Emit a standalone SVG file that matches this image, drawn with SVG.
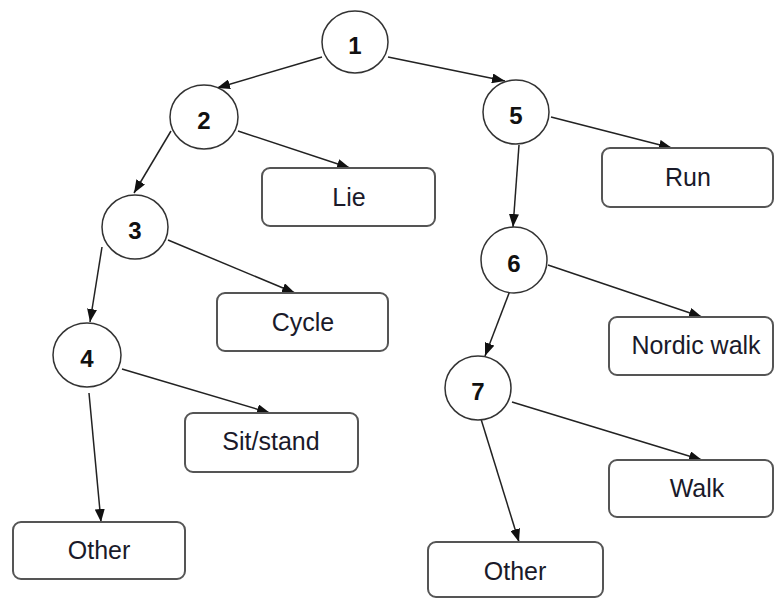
<svg xmlns="http://www.w3.org/2000/svg" width="774" height="598" viewBox="0 0 774 598">
<style>
.c{fill:#fff;stroke:#333;stroke-width:1.5}
.b{fill:#fff;stroke:#555;stroke-width:2}
.n{font-family:"Liberation Sans",Arial,sans-serif;font-weight:bold;font-size:24px;fill:#111;text-anchor:middle}
.t{font-family:"Liberation Sans",Arial,sans-serif;font-size:25px;fill:#1a1a2a;text-anchor:middle}
.e{stroke:#222;stroke-width:1.5;fill:none;marker-end:url(#ah)}
</style>
<defs>
<marker id="ah" markerUnits="userSpaceOnUse" markerWidth="13" markerHeight="10" refX="13" refY="5" orient="auto">
<path d="M0,0 L13,5 L0,10 z" fill="#111"/>
</marker>
</defs>
<g id="connectors">
<line class="e" x1="322" y1="57" x2="217" y2="88"/>
<line class="e" x1="388" y1="57" x2="505" y2="81"/>
<line class="e" x1="171" y1="131" x2="134" y2="193"/>
<line class="e" x1="238" y1="131" x2="350" y2="168"/>
<line class="e" x1="551" y1="117" x2="672" y2="148"/>
<line class="e" x1="519" y1="145" x2="513" y2="227"/>
<line class="e" x1="168" y1="240" x2="295" y2="293"/>
<line class="e" x1="102" y1="247" x2="90" y2="322"/>
<line class="e" x1="548" y1="265" x2="702" y2="317"/>
<line class="e" x1="511" y1="288" x2="485" y2="356"/>
<line class="e" x1="122" y1="369" x2="270" y2="413"/>
<line class="e" x1="89" y1="393" x2="101" y2="522"/>
<line class="e" x1="512" y1="402" x2="702" y2="460"/>
<line class="e" x1="481" y1="419" x2="519" y2="542"/>
</g>
<g id="n1"><ellipse class="c" cx="355" cy="42" rx="33" ry="31"/><text class="n" x="355" y="54">1</text></g>
<g id="n2"><ellipse class="c" cx="204" cy="117" rx="34" ry="32"/><text class="n" x="204" y="129">2</text></g>
<g id="n3"><ellipse class="c" cx="135" cy="227" rx="33" ry="32"/><text class="n" x="135" y="239">3</text></g>
<g id="n4"><ellipse class="c" cx="87" cy="355" rx="34" ry="32"/><text class="n" x="87" y="367">4</text></g>
<g id="n5"><ellipse class="c" cx="516" cy="112" rx="33" ry="32"/><text class="n" x="516" y="124">5</text></g>
<g id="n6"><ellipse class="c" cx="514" cy="260" rx="33" ry="33"/><text class="n" x="514" y="272">6</text></g>
<g id="n7"><ellipse class="c" cx="478" cy="388" rx="33" ry="32"/><text class="n" x="478" y="400">7</text></g>
<g id="lie"><rect class="b" x="262" y="168" width="173" height="58" rx="8"/><text class="t" x="349" y="206">Lie</text></g>
<g id="run"><rect class="b" x="602" y="148" width="171" height="59" rx="8"/><text class="t" x="688" y="186">Run</text></g>
<g id="cycle"><rect class="b" x="217" y="293" width="171" height="58" rx="8"/><text class="t" x="303" y="331">Cycle</text></g>
<g id="nordic"><rect class="b" x="609" y="317" width="164" height="58" rx="8"/><text class="t" x="696" y="354">Nordic walk</text></g>
<g id="sit"><rect class="b" x="185" y="413" width="173" height="59" rx="8"/><text class="t" x="271" y="450">Sit/stand</text></g>
<g id="walk"><rect class="b" x="609" y="460" width="164" height="57" rx="8"/><text class="t" x="697" y="497">Walk</text></g>
<g id="otherL"><rect class="b" x="13" y="522" width="172" height="57" rx="8"/><text class="t" x="99" y="559">Other</text></g>
<g id="otherR"><rect class="b" x="428" y="542" width="175" height="55" rx="8"/><text class="t" x="515" y="580">Other</text></g>
</svg>
